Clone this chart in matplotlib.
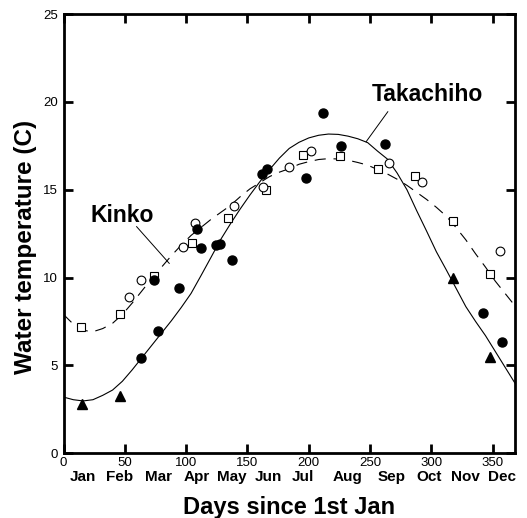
import numpy as np
import matplotlib.pyplot as plt
from matplotlib.transforms import blended_transform_factory

plt.rcParams['font.family'] = ['Liberation Sans', 'DejaVu Sans']

# Kinko: open squares / open circles
sq_day = [14.1, 45.7, 73.4, 104.4, 134.1, 165.1, 195.0, 225.7, 256.8, 286.4, 317.4, 348.1]
sq_temp = [7.2, 7.95, 10.08, 11.98, 13.37, 14.98, 16.97, 16.9, 16.17, 15.79, 13.2, 10.18]
oc_day = [53.4, 63.4, 97.1, 107.2, 138.7, 162.9, 184.1, 201.8, 265.7, 292.1, 356.0]
oc_temp = [8.9, 9.85, 11.75, 13.08, 14.07, 15.17, 16.27, 17.2, 16.55, 15.45, 11.5]

# Takachiho: filled circles / filled triangles
fc_day = [63.4, 77.3, 73.4, 94.4, 108.8, 112.3, 124.3, 127.3, 137.1, 161.9, 165.6,
          197.8, 211.3, 226.3, 262.5, 342.4, 357.7]
fc_temp = [5.4, 6.95, 9.85, 9.4, 12.74, 11.67, 11.85, 11.94, 10.99, 15.89, 16.16,
           15.64, 19.38, 17.48, 17.6, 7.96, 6.36]
tr_day = [15.0, 45.7, 317.7, 348.1]
tr_temp = [2.8, 3.25, 9.95, 5.5]

# fitted curves, every 8 days
curve_day = list(range(0, 369, 8))
tak_temp = [3.2, 3.05, 2.98, 3.05, 3.3, 3.6, 4.1, 4.75, 5.45, 6.15, 6.85, 7.55,
            8.3, 9.1, 10.1, 11.12, 12.15, 13.05, 13.9, 14.7, 15.45, 16.15, 16.8,
            17.35, 17.7, 17.95, 18.1, 18.17, 18.15, 18.05, 17.9, 17.68, 17.2,
            16.75, 15.95, 15.0, 13.8, 12.65, 11.47, 10.45, 9.4, 8.35, 7.5, 6.7,
            5.8, 4.9, 4.0]
kin_temp = [7.9, 7.35, 7.0, 6.92, 7.1, 7.4, 7.9, 8.55, 9.25, 9.95, 10.6, 11.25,
            11.85, 12.4, 12.85, 13.3, 13.7, 14.1, 14.6, 15.05, 15.4, 15.75, 16.0,
            16.2, 16.45, 16.6, 16.72, 16.77, 16.75, 16.68, 16.55, 16.4, 16.15,
            15.9, 15.6, 15.25, 14.85, 14.45, 14.0, 13.5, 12.85, 12.15, 11.35,
            10.6, 9.8, 9.1, 8.4]

months = ["Jan", "Feb", "Mar", "Apr", "May", "Jun", "Jul", "Aug", "Sep", "Oct", "Nov", "Dec"]
month_pos = [16, 45.5, 77.3, 108.3, 137.6, 167, 194.8, 231.5, 267.3, 298.3, 327.7, 357.1]

fig = plt.figure(figsize=(5.27, 5.18), dpi=100)
ax = fig.add_axes([0.1205, 0.1249, 0.8565, 0.848])

ax.plot(curve_day, tak_temp, color='black', lw=0.8)
ax.plot(curve_day, kin_temp, color='black', lw=0.8, dashes=(10, 7))

ax.plot(sq_day, sq_temp, 's', ms=6, mfc='white', mec='black', mew=0.8)
ax.plot(oc_day, oc_temp, 'o', ms=6.3, mfc='white', mec='black', mew=0.8)
ax.plot(fc_day, fc_temp, 'o', ms=6.5, color='black')
ax.plot(tr_day, tr_temp, '^', ms=6.5, color='black')

# labels with leader lines
ax.text(296.3, 20.4, "Takachiho", fontsize=16.5, fontweight='bold', ha='center', va='center')
ax.plot([264.4, 246.7], [19.44, 17.73], color='black', lw=0.7)
ax.text(48.2, 13.52, "Kinko", fontsize=16.5, fontweight='bold', ha='center', va='center')
ax.plot([59.6, 86.2], [12.9, 10.81], color='black', lw=0.7)

ax.set_xlim(0, 368)
ax.set_ylim(0, 25)
ax.set_xticks(range(0, 351, 50))
ax.set_yticks(range(0, 26, 5))
ax.tick_params(direction='in', length=6.5, width=2, top=True, right=True,
               labelsize=9.5, pad=3)
ax.tick_params(axis='y', pad=4)
for s in ax.spines.values():
    s.set_linewidth(2)

trans = blended_transform_factory(ax.transData, ax.transAxes)
for m, p in zip(months, month_pos):
    ax.text(p, -0.053, m, transform=trans, ha='center', va='center',
            fontsize=11, fontweight='bold')

ax.set_xlabel("Days since 1st Jan", fontsize=17, fontweight='bold')
ax.xaxis.set_label_coords(0.5, -0.098)
ax.set_ylabel("Water temperature (C)", fontsize=17.5, fontweight='bold', va='center')
ax.yaxis.set_label_coords(-0.085, 0.47)

fig.savefig("out.png", dpi=100)
